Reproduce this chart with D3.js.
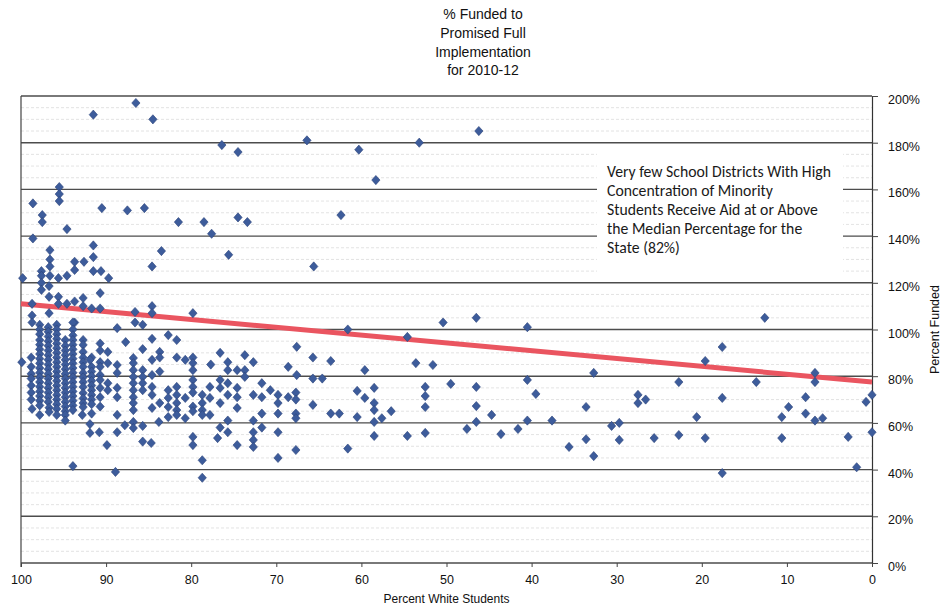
<!DOCTYPE html>
<html>
<head>
<meta charset="utf-8">
<script src="https://cdn.jsdelivr.net/npm/d3@7"></script>
<style>
  body { margin: 0; background: #fff; }
</style>
</head>
<body>
<div id="chart"></div>
<script>
// Values: [percent white students, percent funded]
var upperPoints = [
  [86.5,197],[91.5,192],[84.5,190],[76.4,179],[74.5,176],[66.4,181],[53.2,180],[60.3,177],[46.2,185],[58.3,164],[62.4,149],[65.6,127],
  [98.6,154],[97.5,149],[97.5,146],[95.5,161],[95.5,158],[95.5,155],[94.6,143],[90.5,152],[87.5,151],[85.5,152],[81.5,146],[78.5,146],
  [77.6,141],[74.5,148],[73.4,146],[98.6,139],[96.6,134],[96.6,130],[96.6,127],[96.6,123],[99.8,122],[97.6,125],[97.6,123],[97.6,120],
  [95.6,122],[94.6,123],[93.7,129],[93.7,125.5],[92.6,129],[91.5,136],[91.5,131],[91.5,125],[90.6,125],[89.7,122],[83.5,133.6],[84.6,127],
  [75.6,132],[97.6,117],[96.7,118.6],[98.7,111],[96.7,114],[95.6,114],[95.6,111],[94.6,111],[93.7,112],[92.7,113.5],[92.7,110],[90.7,115.6],
  [91.7,109],[90.7,109],[84.6,110]
];

var nearLinePoints = [
  [98.7,106],[98.7,103],[96.7,107],[93.7,103],[86.6,107.5],[86.6,103],[84.6,107],[85.7,102],[88.7,100.6],[79.8,107],
  [61.6,100],[54.6,96.8],[50.4,103],[46.5,105],[40.5,101],[12.6,105]
];

var denseCluster = [
  [99.9,86],
  [98.8,88],[98.8,84],[98.8,81],[98.8,79],[98.8,76],[98.8,73],[98.8,70],[98.7,66],
  [97.8,102],[97.8,100],[97.8,98],[97.8,95.5],[97.8,93.5],[97.8,91.5],[97.8,89.5],[97.8,87.5],[97.8,85.5],[97.8,83.5],[97.8,81.5],[97.8,79.5],
  [97.8,77.5],[97.8,75.5],[97.8,73.5],[97.8,71.5],[97.8,69.5],[97.8,67.5],[97.8,63.4],
  [96.8,101],[96.8,99],[96.8,97],[96.8,95],[96.8,93],[96.8,91],[96.8,89],[96.8,87],[96.8,85],[96.8,83],[96.8,81],[96.8,79],[96.8,77],
  [96.8,75],[96.8,73],[96.8,71],[96.8,69],[96.7,66.5],[96.7,64.7],
  [95.8,102],[95.8,100],[95.8,98],[95.8,96],[95.8,94],[95.8,92],[95.8,90],[95.8,88],[95.8,86],[95.8,84],[95.8,82],[95.8,80],[95.8,78],
  [95.8,76],[95.8,74],[95.8,72],[95.8,70],[95.8,68],[95.8,66],[95.8,63.4],
  [94.8,95.5],[94.8,93],[94.8,91],[94.8,89],[94.8,87],[94.8,85],[94.8,83],[94.8,81],[94.8,79],[94.8,77],[94.8,75],[94.8,73],[94.8,71],
  [94.8,69],[94.8,67],[94.8,65],[94.8,63.4],[94.8,61],
  [93.9,103],[93.9,100],[93.9,97.5],[93.9,95.5],[93.9,93.5],[93.9,91.5],[93.9,89.5],[93.9,87.5],[93.9,85.5],[93.9,83.5],[93.9,81.5],[93.9,79.5],
  [93.9,77.5],[93.9,75.5],[93.9,73.5],[93.9,71.5],[93.9,69.5],[93.9,67.5],[93.9,65.5],
  [92.7,95.5],[92.7,93.4],[92.7,90.4],[92.7,88],[92.7,86],[92.7,84],[92.7,81.4],[92.7,79.5],[92.7,77.5],[92.7,75.4],[92.7,72.8],[92.7,70.5],
  [92.7,68.5],[92.7,66.8],[92.8,63.4],
  [91.7,88],[91.7,84],[91.7,82],[91.7,80],[91.7,78],[91.7,76],[91.7,74],[91.7,72],[91.7,70],[91.7,68],[91.7,64],[91.9,87],[91.9,59.5],[91.9,55.7],
  [90.7,94],[90.7,91],[90.7,86],[90.7,84],[90.7,80.5],[90.7,78.4],[90.7,75],[90.7,71],[90.7,67],[90.8,56],
  [89.8,90.4],[89.8,85.6],[89.8,77],[89.8,74],[89.9,50.5],[88.7,84.8],[88.7,81.4],[88.7,75],[88.7,71],[88.7,63.4],[88.7,56],[87.8,59],
  [93.9,41.5],[88.9,39]
];

var midPoints = [
  [87.7,94.6],[84.6,96],[82.7,97.6],[81.7,95.5],[85.7,91.6],[83.7,90.4],[83.7,88],[81.7,88],[80.7,87],[79.8,88],[79.8,85.6],[77.7,85],
  [76.6,90],[75.7,86],[75.7,82.6],[74.6,82.6],[73.7,89],[73.7,82.6],[73.7,79.7],[72.7,86],[68.6,84],[67.6,92.6],[67.6,80.5],[65.7,88],
  [65.7,79],[65.7,67.7],
  [86.8,87.8],[86.8,85.6],[86.8,82.6],[86.8,79.7],[86.8,77],[86.8,74],[86.8,71],[86.8,68.5],[86.8,65.5],[86.8,60.4],[86.8,57.8],
  [85.7,82.6],[85.7,79.7],[85.7,77],[85.7,74],[85.7,58.7],[85.7,52],
  [84.6,87],[84.6,80.5],[84.6,75.4],[84.6,72],[84.6,66.4],[84.7,51.4],
  [83.7,82],[83.7,68.5],[83.8,60.4],[82.7,74],[82.7,70.7],[82.7,66.8],[82.7,62.5],
  [81.7,75.4],[81.7,72],[81.7,68.5],[81.7,65.5],[81.7,63.4],[80.7,70.7],[80.7,62],
  [79.8,82.6],[79.8,78.4],[79.8,75.4],[79.8,73],[79.8,67],[79.8,65],[79.8,54],[79.8,50.5],
  [78.7,72],[78.7,68.5],[78.7,65.5],[78.7,63.4],[78.7,44],[78.7,36.5],
  [77.8,75.4],[77.8,70.7],[77.8,63.4],[76.6,78.4],[76.6,75],[76.6,68.5],[76.6,58],[76.9,53.5],
  [75.7,77],[75.7,72],[75.7,61],[75.7,56],[74.6,75],[74.6,71],[74.6,66.4],[74.6,50.5],
  [72.7,72],[72.7,61],[72.7,56],[72.7,52.7],[72.7,49.7],[71.7,77],[71.7,71],[71.7,64],[71.7,58],
  [70.7,74],[69.8,72],[69.8,68.5],[69.8,64],[69.8,56],[69.8,45],
  [68.6,71],[67.7,73],[67.7,70],[67.7,64],[67.7,62],[67.7,48.4]
];

var rightPoints = [
  [64.6,79],[63.6,86.5],[63.6,64],[62.6,64],[61.6,49],[60.5,73.7],[60.5,62.5],[59.6,82.6],[59.6,70.7],[58.5,75],[58.5,68.5],[58.5,65.5],
  [58.5,60.4],[58.5,54.4],[57.6,62],[56.5,65],[54.6,54.4],[53.6,85.6],[52.5,75.4],[52.5,71.5],[52.5,66.8],[52.5,55.7],[51.6,84.8],[49.5,76.7],
  [47.6,57.4],[46.5,75.4],[46.5,67.2],[46.5,60.4],[44.7,63.4],[43.6,55.2],[41.6,57.4],[40.5,78.4],[40.5,61],[39.5,72.4],[37.6,61],[35.6,49.7],
  [33.6,66.8],[33.6,53],[32.7,81.4],[32.7,45.8],[30.6,58.7],[29.7,60],[29.7,52.7],
  [27.5,72],[27.5,68.5],[26.6,70],[25.6,53.5],[22.7,77.5],[22.7,54.8],[20.6,62.5],[19.6,86.5],[19.6,53.5],[17.6,92.5],[17.6,70.7],[17.6,38.5],
  [13.6,77.5],[10.6,62.5],[10.6,53.5],[9.8,66.8],[7.8,71],[7.8,64],[6.7,81.4],[6.7,77.5],[6.7,61],[5.8,62],[2.8,54],[1.8,41],[0.7,69],[0,72],[0,56]
];

// linear trend line end points
var trendLine = [[100,111],[0,77.5]];

var xTicks = [100,90,80,70,60,50,40,30,20,10,0];
var yTicks = [0,20,40,60,80,100,120,140,160,180,200];

var titleLines = ["% Funded to", "Promised Full", "Implementation", "for 2010-12"];
var noteLines = [
  "Very few School Districts With High",
  "Concentration of Minority",
  "Students Receive Aid at or Above",
  "the Median Percentage for the",
  "State (82%)"
];

var svgWidth = 945;
var svgHeight = 611;
var margin = { top: 96, right: 73, bottom: 48, left: 21 };
var width = svgWidth - margin.left - margin.right;
var height = svgHeight - margin.top - margin.bottom;

var svg = d3.select("#chart")
  .append("svg")
  .attr("width", svgWidth)
  .attr("height", svgHeight)
  .style("font-family", "'Liberation Sans', Arial, sans-serif");

var chartGroup = svg.append("g")
  .attr("transform", `translate(${margin.left}, ${margin.top})`);

var xScale = d3.scaleLinear().domain([100, 0]).range([0, width]);
var yScale = d3.scaleLinear().domain([0, 200]).range([height, 0]);

// minor gridlines (faint)
var minor = d3.range(0, 201, 5).filter(d => d % 20 !== 0);
chartGroup.selectAll(".minor")
  .data(minor)
  .enter()
  .append("line")
  .attr("x1", 0).attr("x2", width)
  .attr("y1", d => yScale(d)).attr("y2", d => yScale(d))
  .attr("stroke", "#dcdcdc")
  .attr("stroke-width", 0.8)
  .attr("stroke-dasharray", "3,2");

// major gridlines
chartGroup.selectAll(".major")
  .data(yTicks)
  .enter()
  .append("line")
  .attr("x1", 0).attr("x2", width)
  .attr("y1", d => yScale(d)).attr("y2", d => yScale(d))
  .attr("stroke", "#4d4d4d")
  .attr("stroke-width", 1.4);

// left border
chartGroup.append("line")
  .attr("x1", 0).attr("x2", 0)
  .attr("y1", 0).attr("y2", height + 4)
  .attr("stroke", "#444")
  .attr("stroke-width", 1.2);

// axes
var yAxis = d3.axisRight(yScale).tickValues(yTicks).tickFormat(d => d + "%").tickSize(6).tickPadding(10).tickSizeOuter(0);
var xAxis = d3.axisBottom(xScale).tickValues(xTicks).tickFormat(d3.format("d")).tickSize(4).tickPadding(8).tickSizeOuter(0);

var yAxisG = chartGroup.append("g")
  .attr("transform", `translate(${width}, 0)`)
  .call(yAxis);
yAxisG.selectAll("text")
  .attr("font-size", "12.5px")
  .attr("fill", "#111")
  .attr("dy", "0.6em")
  .style("font-family", "'Liberation Sans', Arial, sans-serif");
yAxisG.selectAll("line").attr("stroke", "#444");
yAxisG.select(".domain").attr("stroke", "#333").attr("stroke-width", 1.2);

var xAxisG = chartGroup.append("g")
  .attr("transform", `translate(0, ${height})`)
  .call(xAxis);
xAxisG.selectAll("text")
  .attr("font-size", "12.5px")
  .attr("fill", "#111")
  .style("font-family", "'Liberation Sans', Arial, sans-serif");
xAxisG.selectAll("line").attr("stroke", "#444");
xAxisG.select(".domain").remove();

// annotation box (white, covers gridlines)
chartGroup.append("rect")
  .attr("x", 576).attr("y", 56)
  .attr("width", 246).attr("height", 122)
  .attr("fill", "#fff");

var note = chartGroup.append("text")
  .attr("x", 586)
  .attr("y", 81)
  .attr("fill", "#1a1a1a")
  .attr("font-size", "13.5px")
  .style("font-family", "Carlito, Calibri, Lato, sans-serif");
note.selectAll("tspan")
  .data(noteLines)
  .enter()
  .append("tspan")
  .attr("x", 586)
  .attr("dy", (d, i) => i === 0 ? 0 : 19)
  .text(d => d);

// fit the note to the width of the original first line
var firstLen = note.select("tspan").node().getComputedTextLength();
if (firstLen > 0) note.attr("font-size", (13.5 * 224 / firstLen).toFixed(2) + "px");

// points
var allPoints = upperPoints.concat(nearLinePoints, denseCluster, midPoints, rightPoints);

var diamond = {
  draw: function(ctx, size) {
    var r = Math.sqrt(size) / 2 * 1.1;
    ctx.moveTo(0, -r);
    ctx.lineTo(r * 0.9, 0);
    ctx.lineTo(0, r);
    ctx.lineTo(-r * 0.9, 0);
    ctx.closePath();
  }
};

// trend line
var line = d3.line().x(d => xScale(d[0])).y(d => yScale(d[1]));
chartGroup.append("path")
  .datum(trendLine)
  .attr("d", line)
  .attr("fill", "none")
  .attr("stroke", "#ea5560")
  .attr("stroke-width", 5);

chartGroup.selectAll(".pt")
  .data(allPoints)
  .enter()
  .append("path")
  .attr("class", "pt")
  .attr("transform", d => `translate(${xScale(d[0])}, ${yScale(d[1])})`)
  .attr("d", d3.symbol().type(diamond).size(70))
  .attr("fill", "#3d5c9b")
  .attr("stroke", "#2a4279")
  .attr("stroke-width", 0.6);

// title
svg.append("text")
  .attr("x", 483)
  .attr("y", 19)
  .attr("text-anchor", "middle")
  .attr("font-size", "14px")
  .attr("fill", "#111")
  .selectAll("tspan")
  .data(titleLines)
  .enter()
  .append("tspan")
  .attr("x", 483)
  .attr("dy", (d, i) => i === 0 ? 0 : 18.8)
  .text(d => d);

// axis titles
svg.append("text")
  .attr("x", margin.left + width / 2)
  .attr("y", 603)
  .attr("text-anchor", "middle")
  .attr("font-size", "12px")
  .attr("fill", "#111")
  .text("Percent White Students");

svg.append("text")
  .attr("transform", `translate(939, ${margin.top + height / 2}) rotate(-90)`)
  .attr("text-anchor", "middle")
  .attr("font-size", "12.5px")
  .attr("fill", "#111")
  .text("Percent Funded");
</script>
</body>
</html>
